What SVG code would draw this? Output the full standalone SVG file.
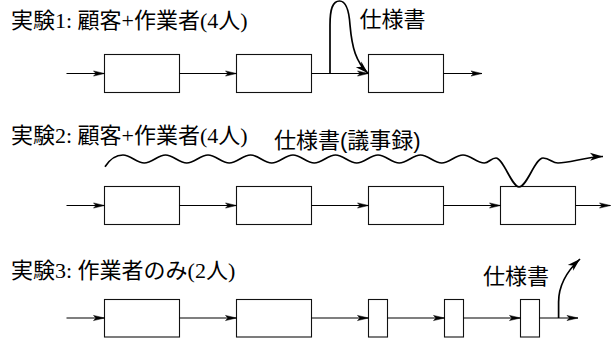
<svg xmlns="http://www.w3.org/2000/svg" width="611" height="339" viewBox="0 0 611 339">
<defs>
<style>
.box{fill:#fff;stroke:#111;stroke-width:1.1}
.ln{fill:none;stroke:#000;stroke-width:1.1;marker-end:url(#thin)}
.crv{fill:none;stroke:#000;stroke-width:1.7;marker-end:url(#big)}
.t{font-family:"Liberation Serif","Noto Sans CJK JP",serif;font-size:22px;fill:#000}
.s{font-family:"Liberation Sans","Noto Sans CJK JP",sans-serif;font-size:22px;fill:#000}
</style>
<marker id="thin" viewBox="-12 -4 13 8" refX="0" refY="0" markerWidth="13" markerHeight="8" markerUnits="userSpaceOnUse" orient="auto">
<path d="M0,0 L-11,-2.6 L-8.5,0 L-11,2.6 Z" fill="#000" stroke="#000" stroke-width="0.5"/>
</marker>
<marker id="big" viewBox="-14 -5 15 10" refX="0" refY="0" markerWidth="15" markerHeight="10" markerUnits="userSpaceOnUse" orient="auto">
<path d="M0,0 L-13,-4 L-9.5,0 L-13,4 Z" fill="#000"/>
</marker>
</defs>
<rect width="611" height="339" fill="#fff"/>

<g id="labels">
<text class="t" x="11" y="28">実験1: 顧客+作業者(4人)</text>
<text class="t" x="11" y="143">実験2: 顧客+作業者(4人)</text>
<text class="t" x="11" y="278">実験3: 作業者のみ(2人)</text>
<text class="s" x="359.5" y="27">仕様書</text>
<text class="s" x="274" y="148">仕様書(議事録)</text>
<text class="s" x="483" y="284">仕様書</text>
</g>

<g id="row1">
<g id="r1b1"><rect class="box" x="104.5" y="54.5" width="75" height="38"/></g>
<g id="r1b2"><rect class="box" x="236.5" y="54.5" width="75" height="38"/></g>
<g id="r1b3"><rect class="box" x="368.5" y="54.5" width="75" height="38"/></g>
</g>
<g id="row2">
<g id="r2b1"><rect class="box" x="104.5" y="186.5" width="75" height="38"/></g>
<g id="r2b2"><rect class="box" x="236.5" y="186.5" width="75" height="38"/></g>
<g id="r2b3"><rect class="box" x="368.5" y="186.5" width="75" height="38"/></g>
<g id="r2b4"><rect class="box" x="500.5" y="186.5" width="75" height="38"/></g>
</g>
<g id="row3">
<g id="r3b1"><rect class="box" x="104.5" y="299.5" width="75" height="37.5"/></g>
<g id="r3b2"><rect class="box" x="236.5" y="299.5" width="75" height="37.5"/></g>
<g id="r3b3"><rect class="box" x="368.5" y="299.5" width="19" height="37.5"/></g>
<g id="r3b4"><rect class="box" x="444.5" y="299.5" width="19" height="37.5"/></g>
<g id="r3b5"><rect class="box" x="520.5" y="299.5" width="19" height="37.5"/></g>
</g>

<g id="connectors">
<path class="ln" d="M66.5,73.5 H104.5"/>
<path class="ln" d="M179.5,73.5 H236.5"/>
<path class="ln" d="M311.5,73.5 H368.5"/>
<path class="ln" d="M443.5,73.5 H482"/>

<path class="ln" d="M66.5,205.5 H104.5"/>
<path class="ln" d="M179.5,205.5 H236.5"/>
<path class="ln" d="M311.5,205.5 H368.5"/>
<path class="ln" d="M443.5,205.5 H500.5"/>
<path class="ln" d="M575.5,205.5 H610.5"/>

<path class="ln" d="M66.5,318 H104.5"/>
<path class="ln" d="M179.5,318 H236.5"/>
<path class="ln" d="M311.5,318 H368.5"/>
<path class="ln" d="M387.5,318 H444.5"/>
<path class="ln" d="M463.5,318 H520.5"/>
<path class="ln" d="M539.5,318 H578"/>

<path class="crv" d="M330,73.5 L330,25 C330,8 333,1 339.5,1 C346,1 349,10 350,25 C352,48 356,62 368,73.3"/>
<path class="crv" d="M105,166.7 C110,159 115,155 123,155 c7.6,0 13.6,8 21.25,8 s13.65,-8 21.25,-8 s13.65,8 21.25,8 s13.65,-8 21.25,-8 s13.65,8 21.25,8 s13.65,-8 21.25,-8 s13.65,8 21.25,8 s13.65,-8 21.25,-8 s13.65,8 21.25,8 s13.65,-8 21.25,-8 s13.65,8 21.25,8 s13.65,-8 21.25,-8 s13.65,8 21.25,8 s13.65,-8 21.25,-8 s13.65,8 21.25,8 s13.65,-8 21.25,-8 s13.65,8 21.25,8 C489,163 491,158 496,158 C503,158 512,187 519,187 C527,187 535,158 543,158 C550,158 552,163 558,163 C570,163 585,157 603,156.5"/>
<path class="crv" d="M558.6,318 L558.6,302 C558.6,287 566,272 580,259"/>
</g>
</svg>
